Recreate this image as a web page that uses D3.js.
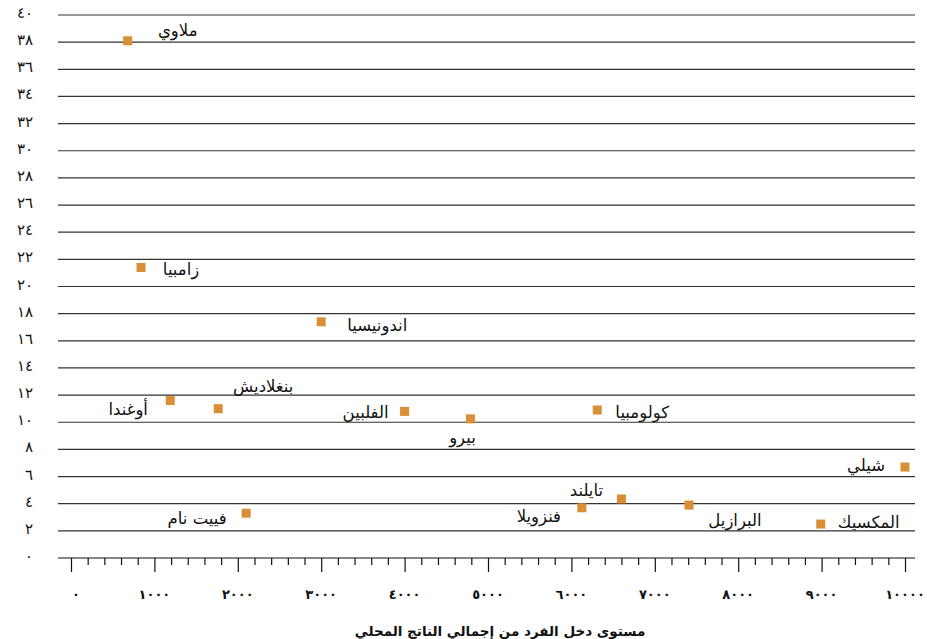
<!DOCTYPE html>
<html lang="ar">
<head>
<meta charset="utf-8">
<script src="https://cdn.jsdelivr.net/npm/d3@7"></script>
<style>
  body { margin: 0; background: #fff; }
  svg { display: block; font-family: "DejaVu Sans", sans-serif; }
</style>
</head>
<body>
<svg id="chart" width="927" height="639"></svg>
<script>
const countries = ["ملاوي", "زامبيا", "اندونيسيا", "بنغلاديش", "أوغندا", "الفلبين", "بيرو", "كولومبيا", "تايلند", "فنزويلا", "شيلي", "المكسيك", "البرازيل", "فييت نام"];
const income = [680, 840, 3000, 1765, 1190, 4000, 4790, 6310, 6600, 6125, 10000, 8990, 7410, 2100];
const rate = [38.1, 21.4, 17.4, 11.0, 11.6, 10.8, 10.25, 10.9, 4.35, 3.7, 6.7, 2.5, 3.9, 3.3];
const xTicks = [0, 1000, 2000, 3000, 4000, 5000, 6000, 7000, 8000, 9000, 10000];
const yTicks = [0, 2, 4, 6, 8, 10, 12, 14, 16, 18, 20, 22, 24, 26, 28, 30, 32, 34, 36, 38, 40];
const xTitle = "مستوى دخل الفرد من إجمالي الناتج المحلي";

// label placement next to each square (px)
const labelOffsets = [[50, -10], [40, 2], [56, 4], [45, -22], [-42, 9], [-39, 1], [-8, 19], [45, 2], [-35, -8], [-43, 9], [-39, -2], [48, -2], [46, 15], [-49, 5]];

const toArabic = (s) => String(s).replace(/\d/g, (c) => "٠١٢٣٤٥٦٧٨٩"[c]);

const data = countries.map((name, i) => ({ name, x: income[i], y: rate[i], off: labelOffsets[i] }));

const svg = d3.select("#chart");
const x = d3.scaleLinear().domain([0, 10000]).range([71, 905]);
const y = d3.scaleLinear().domain([0, 40]).range([558, 15]);
const left = 58, right = 915;

// grid
svg.append("g")
  .selectAll("line")
  .data(yTicks.filter((d) => d > 0))
  .join("line")
  .attr("x1", left).attr("x2", right)
  .attr("y1", (d) => y(d)).attr("y2", (d) => y(d))
  .attr("stroke", "#333").attr("stroke-width", 1.2);

// y labels
svg.append("g")
  .selectAll("text")
  .data(yTicks)
  .join("text")
  .attr("x", 33).attr("y", (d) => y(d) - 2)
  .attr("text-anchor", "end")
  .attr("dominant-baseline", "central")
  .attr("font-size", 15)
  .attr("fill", "#111")
  .text((d) => toArabic(d));

// x axis
const xAxis = svg.append("g").attr("transform", `translate(0,${y(0)})`);
xAxis.append("line").attr("x1", left).attr("x2", right).attr("stroke", "#111").attr("stroke-width", 1.2);
xAxis.call(d3.axisBottom(x).tickValues(d3.range(0, 10001, 200)).tickSize(7).tickFormat(""))
  .call((g) => g.select(".domain").remove());
xAxis.selectAll(".tick line").attr("stroke", "#111").attr("stroke-width", 1.2)
  .attr("y2", (d) => (d % 1000 === 0 ? 14 : 7));

svg.append("g")
  .selectAll("text")
  .data(xTicks)
  .join("text")
  .attr("x", (d) => x(d) + (d === 0 ? 5 : 0))
  .attr("y", 594)
  .attr("text-anchor", "middle")
  .attr("dominant-baseline", "central")
  .attr("font-size", 13)
  .attr("font-weight", "bold")
  .attr("letter-spacing", 3)
  .attr("fill", "#111")
  .text((d) => toArabic(d));

svg.append("text")
  .attr("x", 500).attr("y", 631)
  .attr("text-anchor", "middle")
  .attr("dominant-baseline", "central")
  .attr("font-size", 13.5)
  .attr("font-weight", "bold")
  .attr("fill", "#111")
  .text(xTitle);

// points
const pts = svg.append("g").selectAll("g").data(data).join("g");
pts.append("rect")
  .attr("x", (d) => x(d.x) - 4.5)
  .attr("y", (d) => y(d.y) - 4.5)
  .attr("width", 9).attr("height", 9)
  .attr("fill", "#d98f36");
pts.append("text")
  .attr("x", (d) => x(d.x) + d.off[0])
  .attr("y", (d) => y(d.y) + d.off[1])
  .attr("text-anchor", "middle")
  .attr("dominant-baseline", "central")
  .attr("font-size", 16.5)
  .attr("fill", "#111")
  .text((d) => d.name);
</script>
</body>
</html>
